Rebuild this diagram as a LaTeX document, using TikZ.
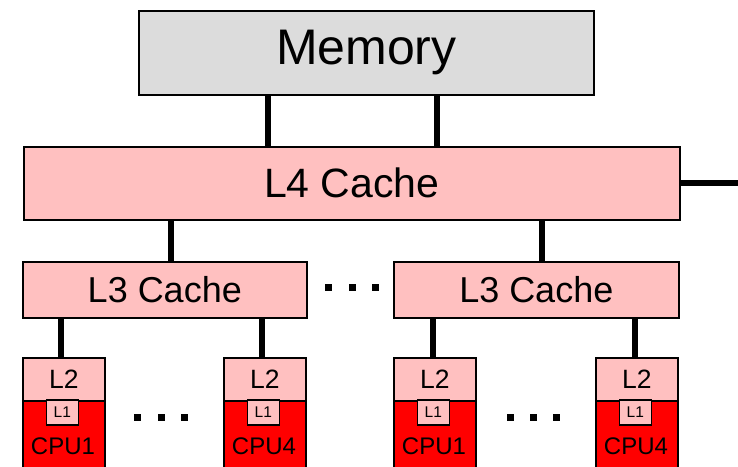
\documentclass[tikz,border=0pt]{standalone}
\usepackage{fontspec}
\setmainfont{Liberation Sans}
\usetikzlibrary{calc}
\definecolor{memgray}{HTML}{DCDCDC}
\definecolor{cachepink}{HTML}{FFC0C0}
\definecolor{cpured}{HTML}{FF0000}
\newcommand{\mycore}[3]{%
  \node[cpubox, minimum width=82pt, minimum height=80pt] (cpu#1) at (#2,400) {};
  \node[cachebox, minimum width=82pt, minimum height=43pt,
        font=\fontsize{26.5}{30}\selectfont] (ltwo#1) at (#2,357) {L2};
  \node[cachebox, minimum width=32pt, minimum height=25pt,
        font=\fontsize{15.5}{18}\selectfont] (lone#1) at ($(#2,399)+(23.5,0)$) {L1};
  \node[lbl, font=\fontsize{24}{28}\selectfont] (cpulbl#1) at ($(#2,446)+(41,0)$) {#3};
}
\begin{document}
\begin{tikzpicture}[x=1pt,y=-1pt,
  box/.style={draw=black, line width=1.6pt, inner sep=0pt, anchor=north west},
  cachebox/.style={box, fill=cachepink},
  cpubox/.style={box, fill=cpured},
  bus/.style={line width=5.5pt},
  dotsq/.style={fill=black, minimum size=7pt, inner sep=0pt, rectangle},
  lbl/.style={inner sep=0pt},
]
\useasboundingbox (0,0) rectangle (738,466);
\clip (0,0) rectangle (738,466);

% Memory and L4
\node[box, fill=memgray, minimum width=455pt, minimum height=84pt,
      font=\fontsize{50}{60}\selectfont] (mem) at (138,10) {Memory};
\node[cachebox, minimum width=656pt, minimum height=73pt,
      font=\fontsize{41}{50}\selectfont] (l4) at (23,146) {L4 Cache};

% L3 caches
\node[cachebox, minimum width=284pt, minimum height=56pt,
      font=\fontsize{36}{44}\selectfont] (l3a) at (22,261) {L3 Cache};
\node[cachebox, minimum width=285pt, minimum height=56pt,
      font=\fontsize{36}{44}\selectfont] (l3b) at (393,261) {L3 Cache};

% cores
\mycore{a}{22}{CPU1}
\mycore{b}{223}{CPU4}
\mycore{c}{393}{CPU1}
\mycore{d}{595}{CPU4}

% connector positions
\coordinate (m1) at (268,0);
\coordinate (m2) at (437,0);
\coordinate (f1) at (171,0);
\coordinate (f2) at (542,0);
\coordinate (t1) at (61,0);
\coordinate (t2) at (262,0);
\coordinate (t3) at (433,0);
\coordinate (t4) at (635,0);
\coordinate (stub) at (738,183);

\draw[bus] (m1 |- mem.south) -- (m1 |- l4.north);
\draw[bus] (m2 |- mem.south) -- (m2 |- l4.north);
\draw[bus, line width=6.5pt] (l4.east |- stub) -- (stub);
\draw[bus] (f1 |- l4.south) -- (f1 |- l3a.north);
\draw[bus] (f2 |- l4.south) -- (f2 |- l3b.north);
\draw[bus] (t1 |- l3a.south) -- (t1 |- ltwoa.north);
\draw[bus] (t2 |- l3a.south) -- (t2 |- ltwob.north);
\draw[bus] (t3 |- l3b.south) -- (t3 |- ltwoc.north);
\draw[bus] (t4 |- l3b.south) -- (t4 |- ltwod.north);

% ellipsis dots
\node[dotsq] (da1) at (328.5,287.5) {};
\node[dotsq] (da2) at (352,287.5) {};
\node[dotsq] (da3) at (375.5,287.5) {};
\node[dotsq] (db1) at (137.5,417) {};
\node[dotsq] (db2) at (161,417) {};
\node[dotsq] (db3) at (184.5,417) {};
\node[dotsq] (dc1) at (510.5,417) {};
\node[dotsq] (dc2) at (533.5,417) {};
\node[dotsq] (dc3) at (556.5,417) {};
\end{tikzpicture}
\end{document}
